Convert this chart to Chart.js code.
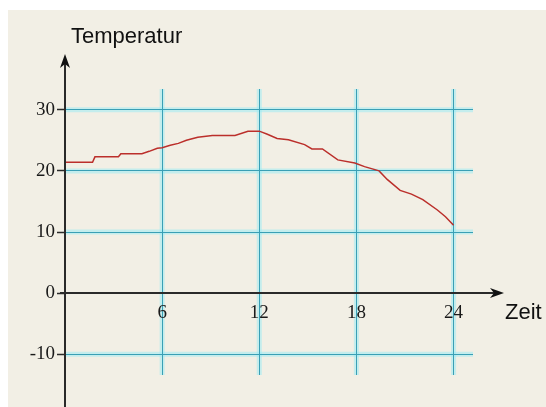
<!DOCTYPE html>
<html>
<head>
<meta charset="utf-8">
<script src="https://cdn.jsdelivr.net/npm/chart.js@4"></script>
<style>
  html, body { margin: 0; padding: 0; background: #fff; }
  canvas { display: block; }
</style>
</head>
<body>
<canvas id="tempChart" width="546" height="407"></canvas>
<script>
// hour of day and temperature
var hours = [0, 1.7, 1.85, 3.3, 3.45, 4.75, 5.2, 5.7, 6, 6.5, 7, 7.5, 8.2, 9.1, 10.5, 11.3, 12,
    12.5, 13.1, 13.8, 14.8, 15.25, 15.9, 16.85, 17.9, 18.5, 19.4, 19.9, 20.7, 21.4, 22.1, 23, 23.5, 24];
var temps = [21.4, 21.4, 22.3, 22.3, 22.8, 22.8, 23.2, 23.7, 23.8, 24.2, 24.5, 25, 25.5, 25.8, 25.8, 26.5, 26.5,
    26.0, 25.3, 25.1, 24.3, 23.6, 23.6, 21.8, 21.3, 20.7, 20.0, 18.6, 16.8, 16.2, 15.3, 13.6, 12.5, 11.1];
var xTicks = [6, 12, 18, 24];
var yTicks = [-10, 0, 10, 20, 30];

var gridColor = '#3a9fb5';
var tickFont = { family: '"Liberation Serif", "Times New Roman", serif', size: 19 };

// background, grid halo, axes with arrows, axis names
var decor = {
    id: 'decor',
    beforeDraw: function (chart) {
        var ctx = chart.ctx;
        var x = chart.scales.x, y = chart.scales.y, a = chart.chartArea;
        ctx.save();
        ctx.fillStyle = '#fff';
        ctx.fillRect(0, 0, chart.width, chart.height);
        ctx.fillStyle = '#f2efe5';
        ctx.fillRect(8, 10, chart.width - 8, chart.height - 10);
        ctx.strokeStyle = 'rgba(150, 235, 245, 0.5)';
        ctx.lineWidth = 5;
        yTicks.forEach(function (v) {
            if (v === 0) return;
            var py = y.getPixelForValue(v);
            ctx.beginPath(); ctx.moveTo(a.left, py); ctx.lineTo(a.right, py); ctx.stroke();
        });
        xTicks.forEach(function (v) {
            var px = x.getPixelForValue(v);
            ctx.beginPath(); ctx.moveTo(px, a.top); ctx.lineTo(px, a.bottom); ctx.stroke();
        });
        ctx.restore();
    },
    afterDraw: function (chart) {
        var ctx = chart.ctx;
        var x0 = chart.scales.x.getPixelForValue(0);
        var y0 = chart.scales.y.getPixelForValue(0);
        ctx.save();
        ctx.strokeStyle = '#2a2a2a';
        ctx.fillStyle = '#111';
        ctx.lineWidth = 2;
        ctx.beginPath();
        ctx.moveTo(x0, chart.height); ctx.lineTo(x0, 60);
        ctx.moveTo(x0 - 5, y0); ctx.lineTo(498, y0);
        ctx.stroke();
        // arrow heads
        ctx.beginPath();
        ctx.moveTo(x0, 54); ctx.lineTo(x0 + 5, 68); ctx.lineTo(x0, 64); ctx.lineTo(x0 - 5, 68); ctx.closePath();
        ctx.fill();
        ctx.beginPath();
        ctx.moveTo(504, y0); ctx.lineTo(490, y0 - 5); ctx.lineTo(494, y0); ctx.lineTo(490, y0 + 5); ctx.closePath();
        ctx.fill();
        ctx.font = '22px "Liberation Sans", Arial, sans-serif';
        ctx.textBaseline = 'middle';
        ctx.textAlign = 'left';
        ctx.fillText('Temperatur', 71, 37);
        ctx.fillText('Zeit', 505, 313);
        ctx.restore();
    }
};

var tempChart = new Chart('tempChart', {
    type: 'line',
    data: {
        datasets: [{
            data: hours.map(function (h, i) { return { x: h, y: temps[i] }; }),
            borderColor: '#bb2f2b',
            borderWidth: 1.5,
            pointRadius: 0,
            tension: 0,
            fill: false
        }]
    },
    options: {
        responsive: false,
        animation: false,
        events: [],
        layout: {
            padding: { left: 0, top: 89, right: 73, bottom: 32 }
        },
        scales: {
            x: {
                type: 'linear',
                min: 0,
                max: 25.2,
                position: { y: 0 },
                afterFit: function (s) { s.height = 0; },
                afterBuildTicks: function (s) {
                    s.ticks = xTicks.map(function (v) { return { value: v }; });
                },
                border: { display: false },
                grid: {
                    color: gridColor,
                    lineWidth: 1,
                    drawTicks: false
                },
                ticks: {
                    color: '#1a1a1a',
                    padding: 9,
                    maxRotation: 0,
                    font: tickFont
                }
            },
            y: {
                type: 'linear',
                min: -13.4,
                max: 33.4,
                afterFit: function (s) { s.width = 65; },
                afterBuildTicks: function (s) {
                    s.ticks = yTicks.map(function (v) { return { value: v }; });
                },
                border: { display: false },
                grid: {
                    color: function (c) { return c.tick && c.tick.value === 0 ? 'rgba(0,0,0,0)' : gridColor; },
                    tickColor: '#2a2a2a',
                    tickLength: 8,
                    tickWidth: 1.5,
                    lineWidth: 1
                },
                ticks: {
                    color: '#1a1a1a',
                    padding: 2,
                    font: tickFont
                }
            }
        },
        plugins: {
            legend: { display: false },
            tooltip: { enabled: false },
            title: { display: false }
        }
    },
    plugins: [decor]
});
</script>
</body>
</html>
